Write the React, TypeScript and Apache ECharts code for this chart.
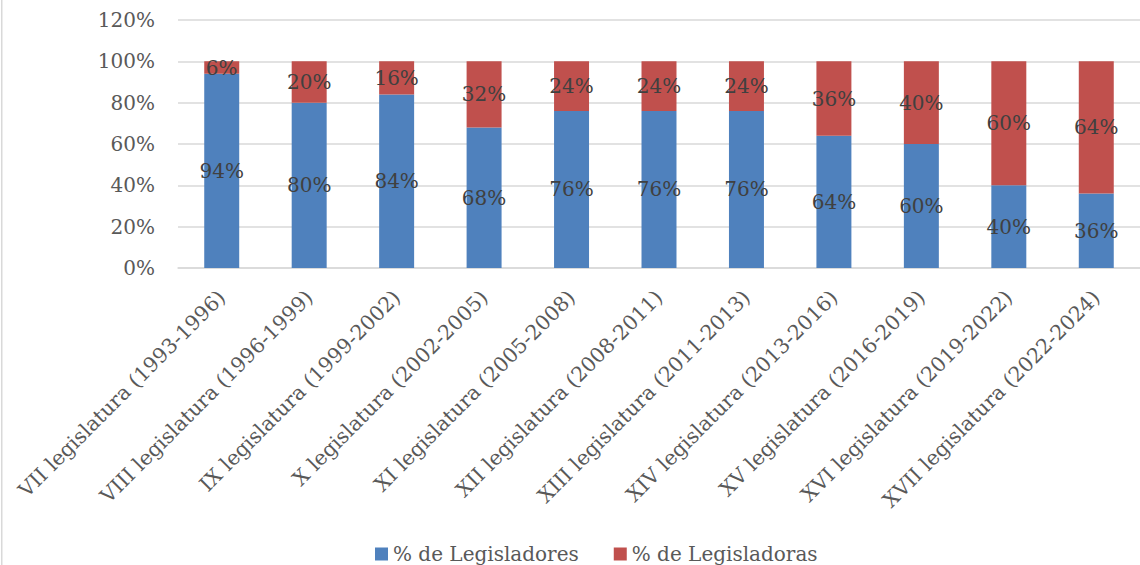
import React, { useEffect, useRef } from "react";
import * as echarts from "echarts";

const categories = [
  "VII legislatura (1993-1996)",
  "VIII legislatura (1996-1999)",
  "IX legislatura (1999-2002)",
  "X legislatura (2002-2005)",
  "XI legislatura (2005-2008)",
  "XII legislatura (2008-2011)",
  "XIII legislatura (2011-2013)",
  "XIV legislatura (2013-2016)",
  "XV legislatura (2016-2019)",
  "XVI legislatura (2019-2022)",
  "XVII legislatura (2022-2024)",
];
const legisladores = [94, 80, 84, 68, 76, 76, 76, 64, 60, 40, 36];
const legisladoras = [6, 20, 16, 32, 24, 24, 24, 36, 40, 60, 64];
const seriesNames = ["% de Legisladores", "% de Legisladoras"];

const FONT = "DejaVu Serif";

export default function App() {
  const ref = useRef<HTMLDivElement>(null);
  useEffect(() => {
    if (!ref.current) return;
    const chart = echarts.init(ref.current, undefined, { renderer: "svg" });
    const labelStyle = {
      show: true,
      position: "inside" as const,
      formatter: "{c}%",
      color: "#404040",
      fontFamily: FONT,
      fontSize: 20,
    };
    chart.setOption({
      animation: false,
      backgroundColor: "#ffffff",
      textStyle: { fontFamily: FONT },
      grid: { left: 178, right: -4.5, top: 20, bottom: 297, containLabel: false },
      legend: {
        data: seriesNames,
        top: 539,
        left: 370,
        icon: "rect",
        itemWidth: 13,
        itemHeight: 13,
        itemGap: 35,
        textStyle: { color: "#595959", fontFamily: FONT, fontSize: 20 },
      },
      xAxis: {
        type: "category",
        data: categories,
        axisLine: { show: true, lineStyle: { color: "#d9d9d9", width: 1.5 } },
        axisTick: { show: false },
        axisLabel: {
          interval: 0,
          rotate: 45,
          margin: 26,
          color: "#595959",
          fontFamily: FONT,
          fontSize: 20.5,
        },
      },
      yAxis: {
        type: "value",
        min: 0,
        max: 120,
        interval: 20,
        axisLine: { show: false },
        axisTick: { show: false },
        splitLine: { lineStyle: { color: "#d9d9d9", width: 1.5 } },
        axisLabel: {
          formatter: "{value}%",
          margin: 23,
          color: "#595959",
          fontFamily: FONT,
          fontSize: 20,
        },
      },
      series: [
        {
          name: seriesNames[0],
          type: "bar",
          stack: "total",
          barWidth: "40%",
          data: legisladores,
          itemStyle: { color: "#4F81BD" },
          label: labelStyle,
        },
        {
          name: seriesNames[1],
          type: "bar",
          stack: "total",
          barWidth: "40%",
          data: legisladoras,
          itemStyle: { color: "#C0504D" },
          label: labelStyle,
        },
      ],
      graphic: [
        {
          type: "rect",
          shape: { x: 1, y: 0, width: 1.5, height: 565 },
          style: { fill: "#d9d9d9" },
          silent: true,
        },
      ],
    });
    return () => chart.dispose();
  }, []);
  return (
    <div
      ref={ref}
      style={{ position: "fixed", left: 0, top: 0, width: 1140, height: 565 }}
    />
  );
}
